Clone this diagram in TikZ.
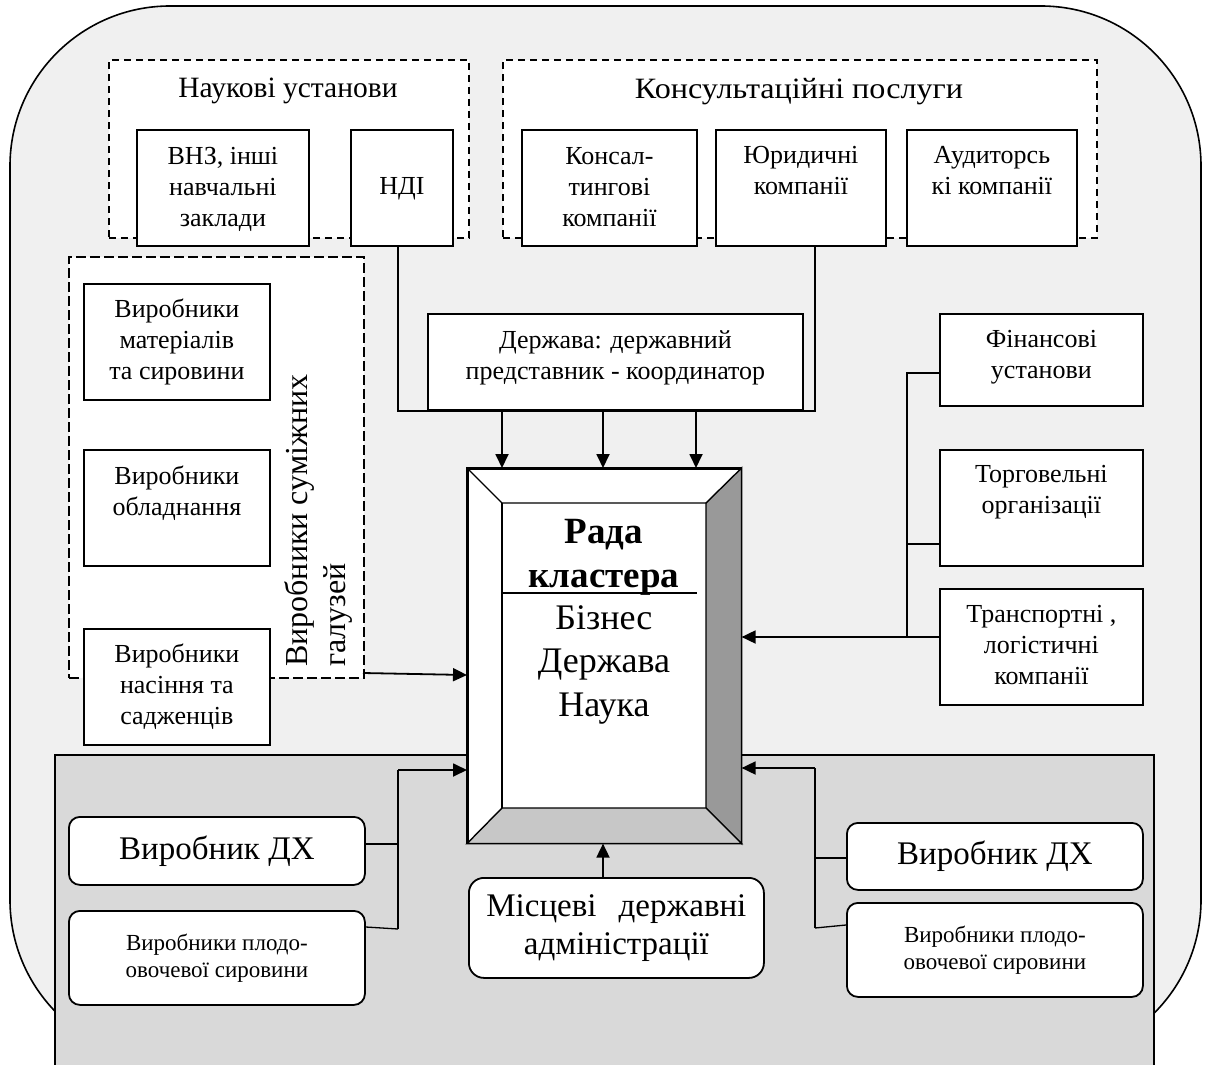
\documentclass[tikz,border=0pt]{standalone}
\usepackage{fontspec}
\setmainfont{Liberation Serif}
\usetikzlibrary{arrows.meta}
% name, x1, y1, w, h, baseline offset shift, text
\newcommand\tbox[7]{%
  \node[box, minimum width=#4pt, minimum height=#5pt, anchor=north west] (#1) at (#2,#3) {};
  \node[btext, anchor=north] (#1T) at ([yshift=-#6pt]#1.north) {\strut #7};}
\begin{document}
\begin{tikzpicture}[x=1pt,y=-1pt,
  box/.style={draw, line width=1.8pt, fill=white, inner sep=0pt, rectangle},
  grp/.style={draw, line width=1.8pt, fill=white, dash pattern=on 7pt off 5pt, inner sep=0pt, rectangle},
  rbox/.style={box, rounded corners=11pt, align=center},
  btext/.style={inner sep=0pt, align=center, font=\fontsize{26}{31}\selectfont},
  conn/.style={line width=1.8pt},
  thinconn/.style={line width=1.3pt},
  arr/.style={conn, -{Triangle[length=14pt,width=13pt]}}]
\useasboundingbox (0,0) rectangle (1205,1065);
% outer frame
\draw[line width=1.6pt, fill=black!6, rounded corners=160pt] (10,6) rectangle (1201,1060);
% grey lower zone
\draw[line width=1.6pt, fill=black!15] (55,755) rectangle (1154,1085);
% dashed groups
\node[grp, minimum width=360pt, minimum height=178pt, anchor=north west] (naukG) at (108,59) {};
\node[grp, minimum width=594pt, minimum height=178pt, anchor=north west] (konsG) at (502,59) {};
\node[grp, dash pattern=on 10pt off 4pt, minimum width=295pt, minimum height=421pt, anchor=north west] (vsgG) at (68,256) {};
\node[anchor=base, inner sep=0pt, font=\fontsize{29.5}{34}\selectfont] (naukT) at (288,97) {Наукові установи};
\node[anchor=base, inner sep=0pt, font=\fontsize{29.5}{34}\selectfont] (konsGT) at (799,99) {\scalebox{1.09}[1]{Консультаційні послуги}};
\node[rotate=90, anchor=west, align=left, inner sep=0pt, font=\fontsize{32}{38}\selectfont] (vsgT) at (318,667) {Виробники суміжних\\галузей};
% boxes
\tbox{vnz}{136}{129}{172}{116}{14}{ВНЗ, інші\\навчальні\\заклади}
\tbox{ndi}{350}{129}{102}{116}{44}{НДІ}
\tbox{kons}{521}{129}{175}{116}{14}{Консал-\\тингові\\компанії}
\tbox{yur}{715}{129}{170}{116}{13}{Юридичні\\компанії}
\tbox{aud}{906}{129}{170}{116}{13}{Аудиторсь\\кі компанії}
\tbox{mat}{83}{283}{186}{116}{13}{Виробники\\матеріалів\\та сировини}
\tbox{obl}{83}{449}{186}{116}{14}{Виробники\\обладнання}
\tbox{nas}{83}{628}{186}{116}{13}{Виробники\\насіння та\\садженців}
\tbox{derzh}{427}{313}{375}{96}{14}{Держава: державний\\представник - координатор}
\tbox{fin}{939}{313}{203}{92}{13}{Фінансові\\установи}
\tbox{torg}{939}{449}{203}{116}{12}{Торговельні\\організації}
\tbox{tran}{939}{588}{203}{116}{13}{Транспортні ,\\логістичні\\компанії}
% bottom rounded boxes
\node[rbox, minimum width=296pt, minimum height=68pt, anchor=north west, font=\fontsize{33}{38}\selectfont] (dxL) at (68,816) {Виробник ДХ};
\node[rbox, minimum width=296pt, minimum height=94pt, anchor=north west, font=\fontsize{23}{27}\selectfont] (plL) at (68,910) {Виробники плодо-\\овочевої сировини};
\node[rbox, minimum width=296pt, minimum height=67pt, anchor=north west, font=\fontsize{33}{38}\selectfont] (dxR) at (846,822) {Виробник ДХ};
\node[rbox, minimum width=296pt, minimum height=94pt, anchor=north west, font=\fontsize{23}{27}\selectfont] (plR) at (846,902) {Виробники плодо-\\овочевої сировини};
\node[rbox, rounded corners=15pt, minimum width=295pt, minimum height=100pt, anchor=north west, font=\fontsize{33}{38}\selectfont] (mis) at (468,877) {\makebox[260pt][s]{Місцеві державні}\\адміністрації};
% cluster council (bevelled box)
\node[box, line width=1.6pt, minimum width=273pt, minimum height=374pt, anchor=north west] (rada) at (467,468) {};
\coordinate (i1) at (502,503);
\coordinate (i2) at (706,503);
\coordinate (i3) at (706,808);
\coordinate (i4) at (502,808);
\draw[line width=1.4pt, fill=black!40] (rada.north east) -- (i2) -- (i3) -- (rada.south east) -- cycle;
\draw[line width=1.4pt, fill=black!22] (rada.south west) -- (i4) -- (i3) -- (rada.south east) -- cycle;
\draw[line width=1.4pt] (rada.north west) -- (i1) -- (i2);
\draw[line width=1.4pt] (i1) -- (i4);
\draw[line width=1.6pt] (rada.north west) rectangle (rada.south east);
\node[anchor=base, inner sep=0pt, font=\fontsize{37}{44}\selectfont\bfseries] (rada1) at (604,543) {Рада};
\node[anchor=base, inner sep=0pt, font=\fontsize{37}{44}\selectfont\bfseries] (rada2) at (604,587) {кластера};
\coordinate (rl1) at (502,593);
\coordinate (rl2) at (697,593);
\draw[line width=1.5pt] (rl1) -- (rl2);
\node[anchor=base, inner sep=0pt, font=\fontsize{36}{43}\selectfont] (rada3) at (604,629) {Бізнес};
\node[anchor=base, inner sep=0pt, font=\fontsize{36}{43}\selectfont] (rada4) at (604,672) {Держава};
\node[anchor=base, inner sep=0pt, font=\fontsize{36}{43}\selectfont] (rada5) at (604,716) {Наука};
% top connectors
\coordinate (tl) at (398,411);
\coordinate (tj) at (815,411);
\draw[conn] (tl |- ndi.south) -- (tl) -- (tj) -- (tj |- yur.south);
\coordinate (a1) at (502,411);
\coordinate (a2) at (603,411);
\coordinate (a3) at (696,411);
\draw[arr] (a1) -- (a1 |- rada.north);
\draw[arr] (a2) -- (a2 |- rada.north);
\draw[arr] (a3) -- (a3 |- rada.north);
% left dashed group to council
\coordinate (lj) at (363,673);
\coordinate (lk) at (467,675);
\draw[arr] (lj) -- (lk);
% right side
\coordinate (rj1) at (907,373);
\coordinate (rj2) at (907,544);
\coordinate (rj3) at (907,637);
\draw[conn, line width=1.5pt] (fin.west |- rj1) -- (rj1) -- (rj3);
\draw[conn, line width=1.5pt] (torg.west |- rj2) -- (rj2);
\draw[arr] (tran.west |- rj3) -- (rada.east |- rj3);
% bottom left
\coordinate (bl) at (398,770);
\coordinate (bl1) at (398,844);
\coordinate (bl2) at (398,929);
\draw[thinconn] (dxL.east |- bl1) -- (bl1);
\draw[thinconn] ([yshift=2pt]plL.east |- bl2) -- (bl2);
\draw[conn] (bl2) -- (bl);
\draw[arr] (bl) -- (rada.west |- bl);
% bottom right
\coordinate (br) at (815,768);
\coordinate (br1) at (815,858);
\coordinate (br2) at (815,928);
\draw[thinconn] (dxR.west |- br1) -- (br1);
\draw[thinconn] ([yshift=3pt]plR.west |- br2) -- (br2);
\draw[conn] (br2) -- (br);
\draw[arr] (br) -- (rada.east |- br);
% local administrations
\coordinate (mj) at (603,877);
\draw[arr] (mj |- mis.north) -- (mj |- rada.south);
\end{tikzpicture}
\end{document}
